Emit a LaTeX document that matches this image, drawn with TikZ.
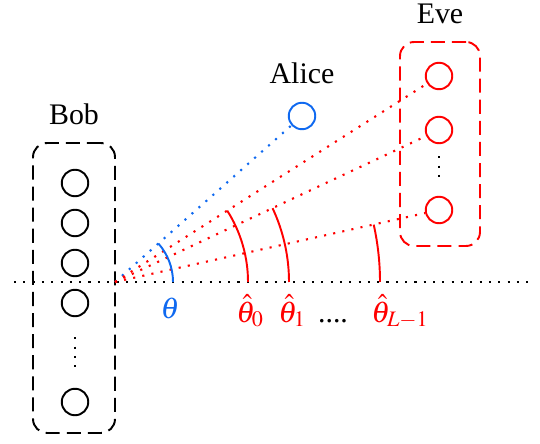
\documentclass[tikz,border=0pt]{standalone}
\usepackage{mathptmx}
\usepackage{fontspec}
\setmainfont{Liberation Serif}
\usetikzlibrary{positioning}
\definecolor{alblue}{RGB}{15,105,240}
\definecolor{evered}{RGB}{255,0,0}
\tikzset{
  antenna/.style = {circle, draw, line width=1.1pt, minimum size=0.53cm, inner sep=0pt},
  array/.style   = {rectangle, draw, rounded corners=0.28cm, line width=1.1pt,
                    dash pattern=on 8pt off 4pt},
  ray/.style     = {line width=1.2pt, dash pattern=on 1.2pt off 4.1pt},
  bearing/.style = {line width=1.1pt},
  tag/.style     = {inner sep=0pt, anchor=base},
}

\begin{document}
\begin{tikzpicture}[x=0.02cm, y=0.02cm, font=\fontsize{17}{20}\selectfont]
      \useasboundingbox (0,0) rectangle (540,443);

      % Bob
      \node[array, minimum width=1.64cm, minimum height=5.8cm] (bob) at (74,155) {};
      \node[above=6.5pt of bob] (bobname) {Bob};
      \node[antenna] (bob1) at (75,260) {};
      \node[antenna] (bob2) at (75,220) {};
      \node[antenna] (bob3) at (75,180) {};
      \node[antenna] (bob4) at (75,140) {};
      \node[antenna] (bob5) at (75,41)  {};
      \draw[ray, shorten <=0.4cm, shorten >=0.32cm] (bob4) -- (bob5);

      % Alice
      \node[antenna, alblue] (alice) at (302,327) {};
      \node[above=6.5pt of alice] (alicename) {Alice};

      % Eve
      \node[array, evered, minimum width=1.6cm, minimum height=4.08cm] (eve) at (440,299) {};
      \node[above=6.5pt of eve] (evename) {Eve};
      \node[antenna, evered] (eve1) at (439,367) {};
      \node[antenna, evered] (eve2) at (439,313) {};
      \node[antenna, evered] (eve3) at (439,233) {};
      \draw[ray, shorten <=0.24cm, shorten >=0.3cm] (eve2) -- (eve3);

      % axis and paths
      \coordinate (o) at (115,161);
      \coordinate (west) at (14,161);
      \coordinate (east) at (530,161);
      \draw[ray] (west) -- (east);
      \draw[ray, alblue] (o) -- (alice);
      \draw[ray, evered] (o) -- (eve1);
      \draw[ray, evered] (o) -- (eve2);
      \draw[ray, evered] (o) -- (eve3);

      % angles
      \draw[bearing, alblue] (o) ++(58,0)  arc[start angle=0, end angle=41.6,  radius=1.16cm];
      \draw[bearing, evered] (o) ++(133,0) arc[start angle=0, end angle=32.45, radius=2.66cm];
      \draw[bearing, evered] (o) ++(174,0) arc[start angle=0, end angle=25.1,  radius=3.48cm];
      \draw[bearing, evered] (o) ++(265,0) arc[start angle=0, end angle=12.5,  radius=5.3cm];

      \node[tag, alblue] (theta)  at (170,125) {$\theta$};
      \node[tag, evered] (theta0) at (250,121) {$\hat{\theta}_0$};
      \node[tag, evered] (theta1) at (292,121) {$\hat{\theta}_1$};
      \node[tag]         (gap)    at (333,121) {....};
      \node[tag, evered] (thetaL) at (400,121) {$\hat{\theta}_{L-1}$};
    \end{tikzpicture}
\end{document}
